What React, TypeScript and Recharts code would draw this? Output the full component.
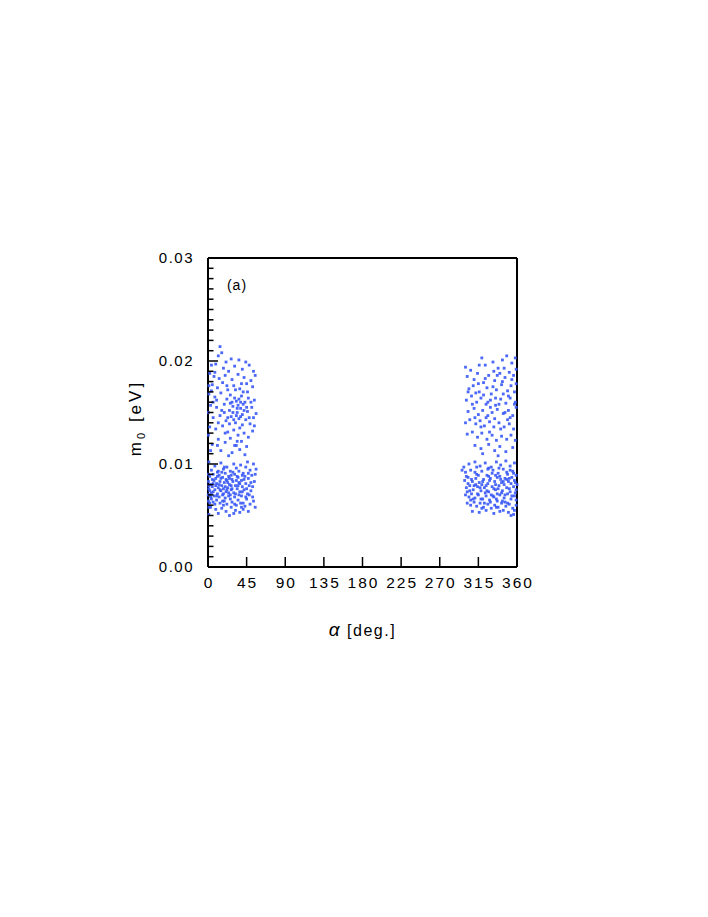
import { ScatterChart, Scatter, XAxis, YAxis } from 'recharts';

// alpha [deg.], m0 [eV]
const leftUpper: [number, number][] = [
  [14, 0.0214], [16, 0.0208], [12, 0.0205], [21, 0.0199], [27, 0.0202], [36, 0.0201], [44, 0.0199], [4, 0.0196],
  [9, 0.0197], [18, 0.0193], [24, 0.019], [31, 0.0195], [40, 0.0192], [48, 0.0196], [53, 0.019], [2, 0.0188],
  [7, 0.0185], [13, 0.0183], [20, 0.0186], [28, 0.0182], [35, 0.0187], [42, 0.0184], [50, 0.0181], [55, 0.0186],
  [5, 0.0177], [11, 0.0174], [17, 0.0179], [23, 0.0172], [30, 0.0176], [37, 0.0173], [45, 0.0178], [52, 0.0175],
  [1, 0.0168], [8, 0.0165], [15, 0.0169], [22, 0.0163], [26, 0.0167], [33, 0.0161], [39, 0.0166], [43, 0.016],
  [47, 0.0164], [54, 0.0162], [3, 0.0157], [10, 0.0155], [19, 0.0158], [25, 0.0152], [29, 0.0156], [34, 0.015],
  [38, 0.0154], [41, 0.0158], [46, 0.0151], [51, 0.0155], [56, 0.0149], [6, 0.0145], [14, 0.0147], [21, 0.0142],
  [27, 0.0146], [32, 0.014], [36, 0.0144], [40, 0.0138], [44, 0.0143], [49, 0.0139], [53, 0.0145], [2, 0.0136],
  [9, 0.0134], [17, 0.0137], [23, 0.0131], [30, 0.0133], [35, 0.0128], [42, 0.013], [47, 0.0126], [52, 0.0132],
  [12, 0.0124], [20, 0.0121], [26, 0.0125], [33, 0.0118], [39, 0.0122], [45, 0.0117], [5, 0.0119], [15, 0.0113],
  [28, 0.0111], [37, 0.0114], [24, 0.0108], [43, 0.0109], [31, 0.0118], [34, 0.0122], [38, 0.016], [31, 0.0164],
  [35, 0.0157], [40, 0.0148], [29, 0.015], [33, 0.0147], [37, 0.0135], [41, 0.017], [45, 0.0155], [26, 0.0159],
  [23, 0.0145], [19, 0.015], [12, 0.014], [6, 0.016], [0.5, 0.015], [1, 0.0176], [0.5, 0.0128], [3, 0.0113],
  [4, 0.0171], [8, 0.0189], [10, 0.0162], [16, 0.0152], [22, 0.0176], [25, 0.0139], [28, 0.016], [30, 0.0143],
  [32, 0.0172], [34, 0.0154], [36, 0.0163], [38, 0.0146], [39, 0.0178], [42, 0.0152], [46, 0.017], [48, 0.0145],
  [50, 0.016], [54, 0.0137], [20, 0.013], [11, 0.0118],
];

const leftLower: [number, number][] = [
  [1, 0.0102], [8, 0.0098], [15, 0.0101], [22, 0.0097], [30, 0.01], [38, 0.0099], [46, 0.0102], [53, 0.01],
  [4, 0.0094], [11, 0.0092], [18, 0.0095], [26, 0.0093], [33, 0.0096], [41, 0.0091], [49, 0.0094], [55, 0.009],
  [2, 0.0088], [6, 0.009], [9, 0.0086], [13, 0.0089], [17, 0.0087], [20, 0.0091], [24, 0.0088], [28, 0.0085],
  [31, 0.009], [35, 0.0087], [39, 0.0084], [43, 0.0088], [47, 0.0086], [51, 0.0089], [0.5, 0.0083], [3, 0.008],
  [7, 0.0084], [10, 0.0081], [14, 0.0083], [16, 0.0079], [19, 0.0082], [22, 0.0084], [25, 0.008], [29, 0.0083],
  [32, 0.0079], [36, 0.0082], [40, 0.0078], [44, 0.0081], [48, 0.0079], [54, 0.0083], [1, 0.0076], [5, 0.0078],
  [8, 0.0075], [12, 0.0077], [15, 0.0074], [18, 0.0076], [21, 0.0073], [23, 0.0077], [27, 0.0075], [30, 0.0072],
  [34, 0.0076], [37, 0.0073], [42, 0.0075], [46, 0.0071], [50, 0.0074], [2, 0.007], [4, 0.0072], [7, 0.0069],
  [11, 0.0071], [13, 0.0068], [17, 0.007], [20, 0.0067], [24, 0.0069], [26, 0.0066], [31, 0.0068], [35, 0.0065],
  [39, 0.0069], [45, 0.0066], [52, 0.0068], [0.5, 0.0064], [6, 0.0063], [10, 0.0065], [14, 0.0062], [19, 0.0064],
  [22, 0.0061], [28, 0.0063], [33, 0.006], [38, 0.0062], [43, 0.0059], [49, 0.0061], [3, 0.0058], [9, 0.0056],
  [16, 0.0057], [21, 0.0054], [27, 0.0058], [32, 0.0055], [37, 0.0053], [41, 0.0056], [47, 0.0054], [1, 0.0051],
  [12, 0.0052], [25, 0.005], [30, 0.0052], [18, 0.006], [8, 0.0061], [4, 0.0066], [15, 0.0086], [27, 0.0079],
  [33, 0.0084], [12, 0.0093], [6, 0.0081], [2, 0.0074], [24, 0.0072], [36, 0.007], [19, 0.0097], [44, 0.0097],
  [40, 0.0089], [52, 0.0078], [56, 0.0095], [0.3, 0.007], [1, 0.0058],
  [5, 0.0085], [9, 0.0079], [11, 0.0088], [14, 0.0075], [16, 0.0092], [20, 0.0078], [23, 0.0082], [25, 0.0086],
  [28, 0.0076], [29, 0.0092], [32, 0.0071], [34, 0.0088], [37, 0.0081], [40, 0.0073], [42, 0.0085], [44, 0.0068],
  [47, 0.0091], [50, 0.0082], [53, 0.0064], [3, 0.0068], [6, 0.0073], [10, 0.0069], [13, 0.008], [17, 0.0064],
  [21, 0.0085], [26, 0.007], [31, 0.0061], [35, 0.0079], [39, 0.0058], [48, 0.007], [0.5, 0.009], [1, 0.0079],
  [2, 0.0062], [18, 0.0071], [22, 0.0075], [27, 0.0089], [36, 0.0093], [41, 0.0062], [45, 0.0076], [55, 0.0058],
];

const rightUpper: [number, number][] = [
  [300, 0.0194], [306, 0.0191], [319, 0.0203], [323, 0.0196], [332, 0.0199], [338, 0.0193], [343, 0.0201], [348, 0.0205],
  [354, 0.0198], [358, 0.0203], [302, 0.0185], [310, 0.0182], [314, 0.0188], [321, 0.0179], [327, 0.0186], [334, 0.0181],
  [340, 0.0188], [346, 0.0184], [351, 0.0189], [356, 0.0186], [359, 0.0192], [304, 0.0173], [309, 0.0176], [316, 0.017],
  [325, 0.0174], [330, 0.0168], [336, 0.0172], [342, 0.0177], [349, 0.0171], [353, 0.0176], [357, 0.017], [301, 0.0162],
  [307, 0.0166], [313, 0.016], [318, 0.0164], [324, 0.0158], [329, 0.0162], [335, 0.0157], [341, 0.0163], [347, 0.0159],
  [352, 0.0164], [358, 0.016], [303, 0.0151], [310, 0.0154], [315, 0.0148], [320, 0.0152], [326, 0.0147], [331, 0.015],
  [337, 0.0153], [344, 0.0149], [350, 0.0152], [355, 0.0147], [359, 0.0155], [300, 0.014], [305, 0.0143], [312, 0.0139],
  [317, 0.0142], [322, 0.0137], [328, 0.0141], [333, 0.0136], [339, 0.014], [345, 0.0136], [351, 0.0139], [356, 0.0134],
  [302, 0.0129], [308, 0.0131], [314, 0.0126], [319, 0.013], [325, 0.0124], [331, 0.0128], [336, 0.0123], [342, 0.0127],
  [348, 0.0124], [353, 0.0128], [358, 0.0123], [311, 0.0118], [318, 0.0115], [327, 0.0119], [334, 0.0113], [340, 0.0117],
  [347, 0.0112], [355, 0.0116], [320, 0.011], [338, 0.0108], [324, 0.0145], [329, 0.0155], [335, 0.0164], [344, 0.0168],
  [349, 0.0143], [359, 0.0178], [316, 0.0196], [312, 0.0169], [333, 0.019], [345, 0.0193],
  [303, 0.017], [308, 0.0158], [311, 0.0145], [315, 0.0178], [318, 0.0136], [321, 0.0167], [323, 0.0183], [326, 0.016],
  [328, 0.0131], [332, 0.0175], [334, 0.0144], [337, 0.0186], [339, 0.0158], [341, 0.0134], [343, 0.018], [346, 0.015],
  [350, 0.0166], [352, 0.0145], [354, 0.0182], [357, 0.0158],
];

const rightLower: [number, number][] = [
  [298, 0.0097], [304, 0.01], [311, 0.0102], [317, 0.0098], [323, 0.0101], [330, 0.0097], [336, 0.0102], [341, 0.0099],
  [347, 0.0103], [352, 0.0098], [357, 0.0101], [300, 0.0092], [306, 0.0094], [313, 0.009], [319, 0.0093], [325, 0.0089],
  [332, 0.0094], [338, 0.0091], [344, 0.0095], [349, 0.009], [355, 0.0093], [359, 0.0089], [299, 0.0084], [303, 0.0087],
  [308, 0.0083], [312, 0.0086], [316, 0.0082], [321, 0.0085], [326, 0.0081], [329, 0.0086], [334, 0.0083], [337, 0.0087],
  [342, 0.0082], [346, 0.0086], [350, 0.0083], [354, 0.0087], [358, 0.0082], [301, 0.0077], [305, 0.0079], [309, 0.0075],
  [314, 0.0078], [318, 0.0074], [322, 0.0077], [327, 0.0073], [331, 0.0078], [335, 0.0075], [339, 0.0079], [343, 0.0074],
  [348, 0.0077], [352, 0.0073], [356, 0.0078], [359, 0.0075], [300, 0.007], [304, 0.0068], [307, 0.0071], [311, 0.0067],
  [315, 0.007], [320, 0.0066], [324, 0.0069], [328, 0.0065], [332, 0.0069], [336, 0.0066], [340, 0.007], [345, 0.0067],
  [349, 0.0071], [353, 0.0066], [357, 0.0069], [302, 0.0062], [306, 0.006], [310, 0.0063], [313, 0.0059], [317, 0.0062],
  [321, 0.0058], [326, 0.0061], [330, 0.0057], [334, 0.006], [338, 0.0058], [342, 0.0062], [347, 0.0059], [351, 0.0061],
  [355, 0.0057], [359, 0.006], [308, 0.0054], [316, 0.0053], [324, 0.0055], [333, 0.0052], [340, 0.0054], [350, 0.0053],
  [353, 0.005], [356, 0.0051], [319, 0.008], [323, 0.0072], [327, 0.0088], [333, 0.0076], [337, 0.0071], [341, 0.0085],
  [345, 0.008], [310, 0.0079], [302, 0.0073], [318, 0.0066], [329, 0.0063], [343, 0.0064], [351, 0.0086], [357, 0.0084],
  [313, 0.0097], [326, 0.0095], [339, 0.0096], [296, 0.0094], [348, 0.0092], [303, 0.0081], [335, 0.0089], [346, 0.0063],
  [301, 0.0088], [305, 0.0074], [307, 0.0085], [309, 0.0066], [312, 0.008], [314, 0.0071], [315, 0.0089], [317, 0.0077],
  [320, 0.0083], [322, 0.0062], [324, 0.0079], [325, 0.0074], [328, 0.0084], [330, 0.007], [331, 0.0091], [333, 0.0068],
  [335, 0.008], [337, 0.0064], [338, 0.0076], [340, 0.0088], [342, 0.0072], [344, 0.0083], [346, 0.007], [348, 0.0085],
  [349, 0.0062], [351, 0.0076], [353, 0.0081], [354, 0.0069], [356, 0.0091], [358, 0.0072], [359, 0.0065], [360, 0.008],
  [306, 0.0065], [311, 0.0092], [319, 0.0057], [327, 0.0096], [336, 0.0058], [344, 0.0055], [352, 0.0094], [357, 0.0055],
];

const xTicks = [0, 45, 90, 135, 180, 225, 270, 315, 360];
const yMajorTicks = [0, 0.01, 0.02, 0.03];
const yTicks = [
  0, 0.001, 0.002, 0.003, 0.004, 0.005, 0.006, 0.007, 0.008, 0.009,
  0.01, 0.011, 0.012, 0.013, 0.014, 0.015, 0.016, 0.017, 0.018, 0.019,
  0.02, 0.021, 0.022, 0.023, 0.024, 0.025, 0.026, 0.027, 0.028, 0.029, 0.03,
];

const points = [...leftUpper, ...leftLower, ...rightUpper, ...rightLower].map(([alpha, m]) => ({ alpha, m }));

const FONT = '"Liberation Sans", Arial, sans-serif';

const isMajor = (v: number) => yMajorTicks.some((t) => Math.abs(t - v) < 1e-9);

const BottomTick = ({ x, y, payload }: any) => (
  <g>
    <line x1={x} x2={x} y1={y} y2={y - 10} stroke="#000" strokeWidth={1.5} />
    <text x={x + 1} y={y + 21} textAnchor="middle" fontSize={15.5} letterSpacing={2} fill="#000" fontFamily={FONT}>
      {payload.value}
    </text>
  </g>
);

const TopTick = ({ x, y }: any) => <line x1={x} x2={x} y1={y} y2={y + 10} stroke="#000" strokeWidth={1.5} />;

const LeftTick = ({ x, y, payload }: any) => {
  const major = isMajor(payload.value);
  return (
    <g>
      <line x1={x} x2={x + (major ? 10 : 5.5)} y1={y} y2={y} stroke="#000" strokeWidth={1.5} />
      {major && (
        <text x={x - 14} y={y} dy="0.36em" textAnchor="end" fontSize={15} letterSpacing={1.5} fill="#000" fontFamily={FONT}>
          {payload.value.toFixed(2)}
        </text>
      )}
    </g>
  );
};

const RightTick = ({ x, y, payload }: any) => {
  const major = isMajor(payload.value);
  return <line x1={x} x2={x - (major ? 10 : 5.5)} y1={y} y2={y} stroke="#000" strokeWidth={1.5} />;
};

const Dot = (props: any) => {
  const { cx, cy } = props;
  return <rect x={cx - 1.4} y={cy - 1.4} width={2.8} height={2.8} fill="#3858f6" fillOpacity={0.9} />;
};

export default function App() {
  return (
    <ScatterChart width={700} height={900} margin={{ top: 240, right: 181, bottom: 301, left: 140 }}>
      <XAxis
        xAxisId="b"
        dataKey="alpha"
        type="number"
        domain={[0, 360]}
        ticks={xTicks}
        interval={0}
        height={40}
        tickSize={0}
        tickMargin={0}
        tickLine={false}
        axisLine={{ stroke: '#000', strokeWidth: 2 }}
        tick={<BottomTick />}
        label={{
          content: ({ viewBox }: any) => (
            <text
              x={viewBox.x + viewBox.width / 2}
              y={viewBox.y + 69}
              textAnchor="middle"
              fontSize={16}
              letterSpacing={1.5}
              fill="#000"
              fontFamily={FONT}
            >
              <tspan fontSize={19} fontStyle="italic">α</tspan> [deg.]
            </text>
          ),
        }}
      />
      <XAxis
        xAxisId="t"
        orientation="top"
        type="number"
        domain={[0, 360]}
        ticks={xTicks}
        interval={0}
        height={10}
        tickSize={0}
        tickMargin={0}
        tickLine={false}
        axisLine={{ stroke: '#000', strokeWidth: 2 }}
        tick={<TopTick />}
        label={{
          content: ({ viewBox }: any) => (
            <text x={viewBox.x + 29} y={viewBox.y + viewBox.height + 32} textAnchor="middle" fontSize={14} letterSpacing={1} fill="#000" fontFamily={FONT}>
              (a)
            </text>
          ),
        }}
      />
      <YAxis
        yAxisId="l"
        dataKey="m"
        type="number"
        domain={[0, 0.03]}
        ticks={yTicks}
        interval={0}
        width={60}
        tickSize={0}
        tickMargin={0}
        tickLine={false}
        axisLine={{ stroke: '#000', strokeWidth: 2 }}
        tick={<LeftTick />}
        label={{
          content: () => (
            <text
              x={127}
              y={410}
              transform="rotate(-90 127 410)"
              textAnchor="middle"
              dy="0.36em"
              fontSize={17}
              letterSpacing={3}
              fill="#000"
              fontFamily={FONT}
            >
              m<tspan fontSize={11} dy={4}>0</tspan>
              <tspan dy={-4}> [eV]</tspan>
            </text>
          ),
        }}
      />
      <YAxis
        yAxisId="r"
        orientation="right"
        type="number"
        domain={[0, 0.03]}
        ticks={yTicks}
        interval={0}
        width={10}
        tickSize={0}
        tickMargin={0}
        tickLine={false}
        axisLine={{ stroke: '#000', strokeWidth: 2 }}
        tick={<RightTick />}
      />
      <Scatter xAxisId="b" yAxisId="l" data={points} shape={<Dot />} isAnimationActive={false} />
    </ScatterChart>
  );
}
